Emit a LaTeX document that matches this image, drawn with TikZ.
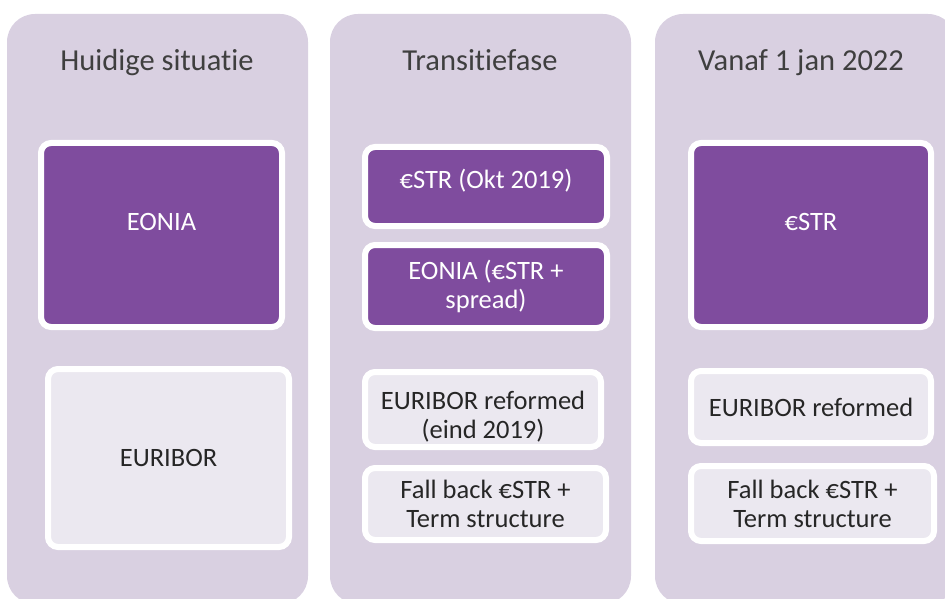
\documentclass[tikz,border=0pt]{standalone}
\usepackage{fontspec}
\setmainfont{Carlito}[Ligatures=NoCommon]
\definecolor{cPanel}{HTML}{D9D0E1}
\definecolor{cRate}{HTML}{7F4C9E}
\definecolor{cLight}{HTML}{EBE8F0}
\definecolor{cHead}{HTML}{3F3F3F}
\definecolor{cInk}{HTML}{262626}
\begin{document}
\begin{tikzpicture}[x=1pt, y=-1pt,
    every node/.style={inner sep=0pt, outer sep=0pt},
    panel/.style={fill=cPanel, rounded corners=28pt, minimum width=301pt, minimum height=590pt},
    hdr/.style  ={text=cHead, font=\fontsize{30.5}{34}\selectfont},
    rate/.style ={draw=white, line width=6pt, fill=cRate, rounded corners=10pt, text=white,
                  align=center, font=\fontsize{26.5}{29}\selectfont},
    old/.style  ={draw=white, line width=6pt, fill=cLight, rounded corners=10pt, text=cInk,
                  align=center, font=\fontsize{26.5}{29}\selectfont},
    hi/.style   ={text depth=26pt}]
\useasboundingbox (0,0) rectangle (945,599);
\clip (0,0) rectangle (945,599);

% ── three phases ──────────────────────────────────────────────
\node[panel, anchor=north west] (pNow)  at (7,14)   {};
\node[panel, anchor=north west] (pTrans) at (330,14) {};
\node[panel, anchor=north west] (pNew)  at (655,14) {};

\node[hdr] (hNow)   at (157,63) {Huidige situatie};
\node[hdr] (hTrans) at (480,60) {Transitiefase};
\node[hdr] (hNew)   at (801,63) {Vanaf 1 jan 2022};

% ── current situation ─────────────────────────────────────────
\node[rate, hi, minimum width=241pt, minimum height=184pt] (eonia) at (161.5,235) {EONIA};
\node[old, minimum width=241pt, minimum height=178pt] (euribor) at (168.5,458) {EURIBOR};

% ── transition ────────────────────────────────────────────────
\node[rate, text depth=15pt, minimum width=242pt, minimum height=79pt] (estrT) at (486,186.5) {€STR (Okt 2019)};
\node[rate, minimum width=242pt, minimum height=83pt] (eoniaT) at (486,286.5) {EONIA (€STR +\\spread)};
\node[old, text height=62pt, minimum width=236pt, minimum height=75pt] (euriborT) at (483,409.5) {EURIBOR reformed\\(eind 2019)};
\node[old, minimum width=241pt, minimum height=72pt] (fallT) at (485.5,504) {Fall back €STR +\\Term structure};

% ── from 2022 ─────────────────────────────────────────────────
\node[rate, hi, minimum width=240pt, minimum height=184pt] (estrN) at (811,235) {€STR};
\node[old, minimum width=240pt, minimum height=72pt] (euriborN) at (811,407) {EURIBOR reformed};
\node[old, minimum width=243pt, minimum height=75pt] (fallN) at (812.5,503.5) {Fall back €STR +\\Term structure};
\end{tikzpicture}
\end{document}
